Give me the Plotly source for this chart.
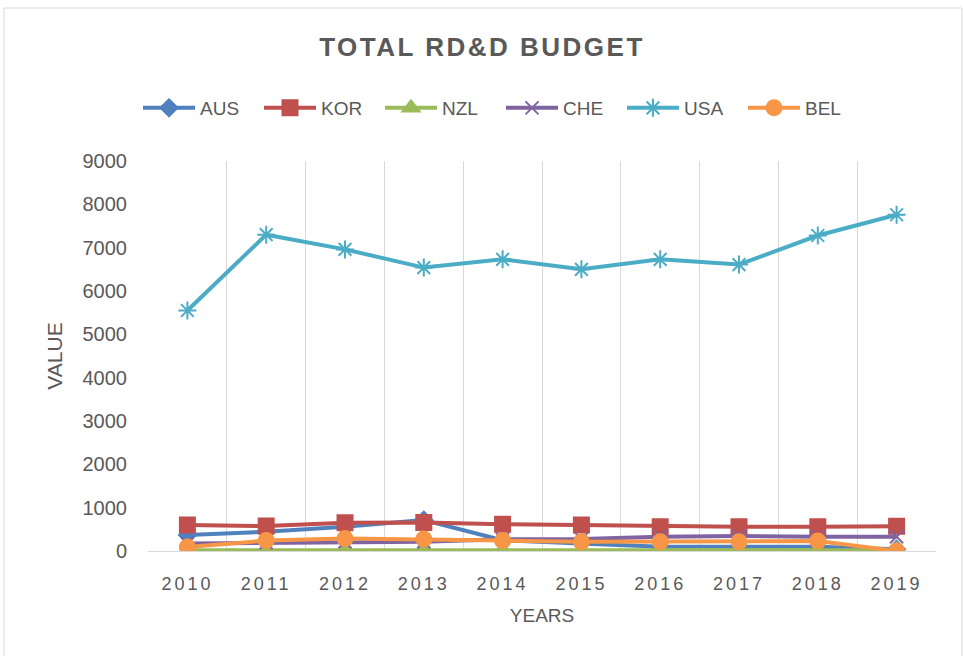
import plotly.graph_objects as go

years = [2010, 2011, 2012, 2013, 2014, 2015, 2016, 2017, 2018, 2019]
aus = [370, 445, 560, 715, 250, 180, 100, 100, 100, 40]
kor = [600, 575, 650, 660, 620, 600, 560, 560, 560, 570]
nzl = [20, 20, 20, 20, 20, 20, 20, 20, 20, 20]
che = [175, 190, 215, 215, 270, 275, 330, 345, 330, 330]
usa = [5550, 7300, 6960, 6540, 6730, 6500, 6730, 6610, 7280, 7760]
bel = [90, 240, 290, 275, 240, 215, 215, 215, 230, 0]

series = [
    ("AUS", aus, "#4F81BD", "diamond", 13),
    ("KOR", kor, "#C0504D", "square", 15),
    ("NZL", nzl, "#9BBB59", "triangle-up", 15),
    ("CHE", che, "#8064A2", "x-thin-open", 13),
    ("USA", usa, "#4BACC6", "asterisk-open", 15),
    ("BEL", bel, "#F79646", "circle", 15),
]

fig = go.Figure()
for name, vals, color, sym, size in series:
    fig.add_trace(go.Scatter(
        x=years, y=vals, name=name, mode="lines+markers",
        line=dict(color=color, width=4),
        marker=dict(symbol=sym, size=size, color=color,
                    line=dict(color=color, width=2)),
    ))

sans = "Liberation Sans, Arial, sans-serif"
grey = "#595959"
fig.update_layout(
    width=964, height=656,
    paper_bgcolor="white", plot_bgcolor="white",
    margin=dict(l=148, r=28, t=161, b=105, autoexpand=False),
    title=dict(text="<b>TOTAL RD&D BUDGET</b>", x=0.5, xanchor="center",
               y=1 - 47 / 656, yanchor="middle",
               font=dict(family=sans, size=26, color=grey)),
    legend=dict(orientation="h", x=(501 - 148) / 788, xanchor="center",
                y=1 + (161 - 108) / 390, yanchor="middle",
                font=dict(family=sans, size=19, color=grey),
                itemwidth=52, entrywidth=54, entrywidthmode="pixels",
                traceorder="normal"),
    xaxis=dict(range=[2009.5, 2019.5], tickvals=years,
               ticktext=[str(y) for y in years], tickangle=0,
               showgrid=False, zeroline=False,
               showline=True, linecolor="#D9D9D9", linewidth=1,
               ticks="", ticklabelstandoff=16,
               tickfont=dict(family=sans, size=18, color=grey),
               minor=dict(tickvals=[y - 0.5 for y in years] + [2019.5],
                          showgrid=True, gridcolor="#D9D9D9", gridwidth=1),
               title=dict(text="YEARS", font=dict(family=sans, size=19, color=grey),
                          standoff=16)),
    yaxis=dict(range=[0, 9000], dtick=1000, showgrid=False, zeroline=False,
               showline=False, ticks="", ticklabelstandoff=20,
               tickfont=dict(family=sans, size=20, color=grey),
               title=dict(text="VALUE", font=dict(family=sans, size=21, color=grey),
                          standoff=14)),
)

fig.add_shape(type="rect", xref="paper", yref="paper",
              x0=(4 - 148) / 788, x1=(962 - 148) / 788,
              y0=(105 - 655) / 390, y1=1 + (161 - 8) / 390,
              line=dict(color="#D9D9D9", width=1), layer="below")

post = """
var s=document.createElement('style');
s.textContent='body{margin:0 !important} .gtitle{letter-spacing:2.5px} .xtick text{letter-spacing:3px}';
document.head.appendChild(s);
"""
fig.write_html("out.html", post_script=post, config={"displayModeBar": False})
